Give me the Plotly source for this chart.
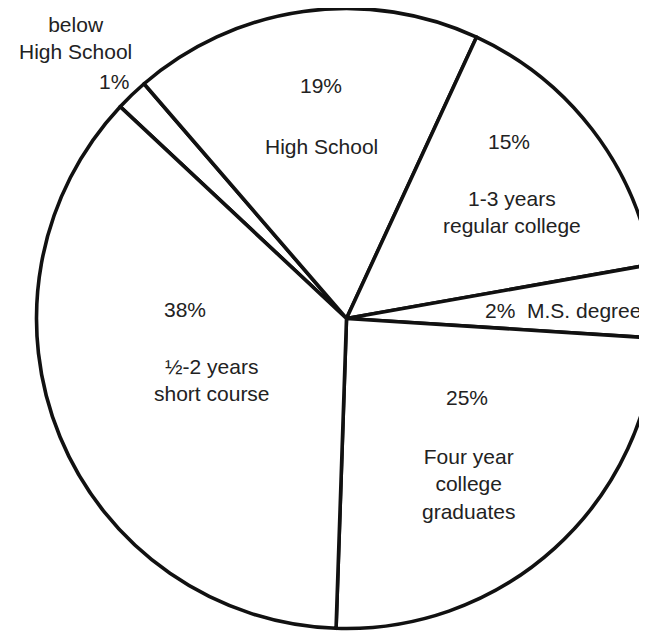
import plotly.graph_objects as go

# Categories in clockwise order, starting at the upper-left boundary
categories = [
    "below High School",
    "High School",
    "1-3 years regular college",
    "M.S. degree",
    "Four year college graduates",
    "1/2-2 years short course",
]
# Percentages printed on the chart
printed_pct = [1, 19, 15, 2, 25, 38]
# Slice shares as drawn in the picture (estimated from the drawn angles, %)
drawn_share = [1.7, 18.2, 15.3, 3.8, 24.5, 36.4]

# Label texts
label_texts = [
    "below<br>High School",
    f"{printed_pct[0]}%",
    f"{printed_pct[1]}%",
    "High School",
    f"{printed_pct[2]}%",
    "1-3 years<br>regular college",
    f"{printed_pct[3]}%  M.S. degree",
    f"{printed_pct[5]}%",
    "½-2 years<br>short course",
    f"{printed_pct[4]}%",
    "Four year<br>college<br>graduates",
]
# Label placement in page pixels (x from left, y from top)
label_pos = [
    (75, 38), (114, 82), (321, 86), (321, 146), (509, 141), (512, 212),
    (563, 311), (185, 309), (212, 380), (467, 397), (468, 484),
]

OFF = 8  # page body margin
W, H = 660, 636
cx, cy, r = 346.5 - OFF, 318.5 - OFF, 310

fig = go.Figure(go.Pie(
    labels=categories,
    values=drawn_share,
    sort=False,
    direction="clockwise",
    rotation=-46.9,
    textinfo="none",
    hoverinfo="none",
    showlegend=False,
    marker=dict(colors=["white"] * len(categories),
                line=dict(color="#111111", width=3.6)),
    domain=dict(x=[(cx - r) / W, (cx + r) / W],
                y=[(H - cy - r) / H, (H - cy + r) / H]),
))

for txt, (px, py) in zip(label_texts, label_pos):
    fig.add_annotation(
        text=txt, x=(px - OFF) / W, y=1 - (py - OFF) / H,
        xref="paper", yref="paper",
        xanchor="center", yanchor="middle", showarrow=False,
        font=dict(family="Liberation Sans, Arial, sans-serif", size=21, color="#222222"),
    )

fig.update_layout(
    width=W, height=H,
    margin=dict(l=0, r=0, t=0, b=0),
    paper_bgcolor="white", plot_bgcolor="white",
)

fig.write_html("out.html")
